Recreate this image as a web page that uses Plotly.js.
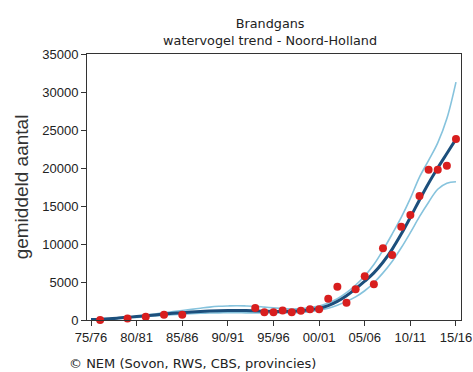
<!DOCTYPE html>
<html>
<head>
<meta charset="utf-8">
<script src="https://cdn.plot.ly/plotly-3.0.1.min.js"></script>
<style>html,body{margin:0;padding:0;background:#fff;}#chart{width:473px;height:372px;}</style>
</head>
<body>
<div id="chart"></div>
<script>
// Seasons (start year), tick labels
const tickYears = [1975, 1980, 1985, 1990, 1995, 2000, 2005, 2010, 2015];
const tickLabels = ["75/76", "80/81", "85/86", "90/91", "95/96", "00/01", "05/06", "10/11", "15/16"];

// Observed counts (red dots)
const obsYears = [1976, 1979, 1981, 1983, 1985, 1993, 1994, 1995, 1996, 1997, 1998, 1999, 2000,
                  2001, 2002, 2003, 2004, 2005, 2006, 2007, 2008, 2009, 2010, 2011, 2012, 2013, 2014, 2015];
const obsCounts = [0, 200, 420, 700, 700, 1580, 1030, 1030, 1250, 1030, 1230, 1420, 1400,
                   2780, 4380, 2280, 4040, 5770, 4700, 9430, 8550, 12260, 13800, 16300, 19780, 19780, 20300, 23800];

// Trend and confidence band
const trendYears = [1975,1976,1977,1978,1979,1980,1981,1982,1983,1984,1985,1986,1987,1988,1989,1990,
                    1991,1992,1993,1994,1995,1996,1997,1998,1999,2000,2001,2002,2003,2004,2005,2006,
                    2007,2008,2009,2010,2011,2012,2013,2014,2015];
const trend = [50,100,170,260,360,460,560,670,780,880,970,1050,1120,1180,1230,1260,
               1260,1240,1200,1160,1130,1120,1140,1210,1340,1550,1900,2450,3200,4100,5100,6200,
               7600,9300,11300,13500,15800,18000,20000,21900,23800];
const upper = [80,130,200,280,380,500,650,800,950,1100,1250,1400,1550,1700,1800,1850,
               1880,1850,1800,1700,1600,1500,1450,1500,1650,1850,2250,2800,3600,4600,5800,7300,
               9200,11300,13500,16000,18800,21000,23300,26500,31300];
const lower = [30,80,130,200,270,350,440,530,620,700,770,830,880,920,940,950,
               950,940,930,920,920,920,950,1000,1100,1280,1550,1950,2450,3050,3850,4900,
               6200,7700,9500,11500,13600,15500,17200,18000,18200];

const lightBlue = '#86c3dd';
const traces = [
  {x: trendYears, y: upper, type: 'scatter', mode: 'lines', line: {color: lightBlue, width: 1.6, shape: 'spline'}, hoverinfo: 'skip'},
  {x: trendYears, y: lower, type: 'scatter', mode: 'lines', line: {color: lightBlue, width: 1.6, shape: 'spline'}, hoverinfo: 'skip'},
  {x: trendYears, y: trend, type: 'scatter', mode: 'lines', line: {color: '#1c4f7c', width: 3, shape: 'spline'}},
  {x: obsYears, y: obsCounts, type: 'scatter', mode: 'markers', cliponaxis: false,
   marker: {color: '#d81e1e', size: 8}}
];

const axisCommon = {
  showline: true, linecolor: '#333', linewidth: 1, mirror: true,
  ticks: 'outside', ticklen: 5, tickcolor: '#333', tickwidth: 1,
  showgrid: false, zeroline: false,
  tickfont: {family: 'Liberation Sans, Arial, sans-serif', size: 13, color: '#222'}
};

const layout = {
  width: 473, height: 372,
  margin: {l: 87, r: 12, t: 54, b: 52},
  paper_bgcolor: '#fff', plot_bgcolor: '#fff',
  showlegend: false,
  title: {
    text: 'Brandgans<br>watervogel trend - Noord-Holland',
    font: {family: 'DejaVu Sans, Verdana, sans-serif', size: 12.8, color: '#222'},
    x: 0.571, xanchor: 'center', yref: 'container', y: 0.925, yanchor: 'top'
  },
  xaxis: Object.assign({}, axisCommon, {
    range: [1974.56, 2015.55],
    tickvals: tickYears, ticktext: tickLabels
  }),
  yaxis: Object.assign({}, axisCommon, {
    range: [0, 35000],
    tickvals: [0, 5000, 10000, 15000, 20000, 25000, 30000, 35000],
    ticktext: ['0', '5000', '10000', '15000', '20000', '25000', '30000', '35000'],
    title: {text: 'gemiddeld aantal', font: {family: 'Liberation Sans, Arial, sans-serif', size: 19, color: '#333'}, standoff: 8}
  }),
  annotations: [{
    text: '© NEM (Sovon, RWS, CBS, provincies)',
    xref: 'paper', yref: 'paper', x: -0.054, y: -0.165, xanchor: 'left', yanchor: 'middle',
    showarrow: false,
    font: {family: 'DejaVu Sans, Verdana, sans-serif', size: 13, color: '#222'}
  }]
};

Plotly.newPlot('chart', traces, layout, {staticPlot: true, displayModeBar: false});
</script>
</body>
</html>
